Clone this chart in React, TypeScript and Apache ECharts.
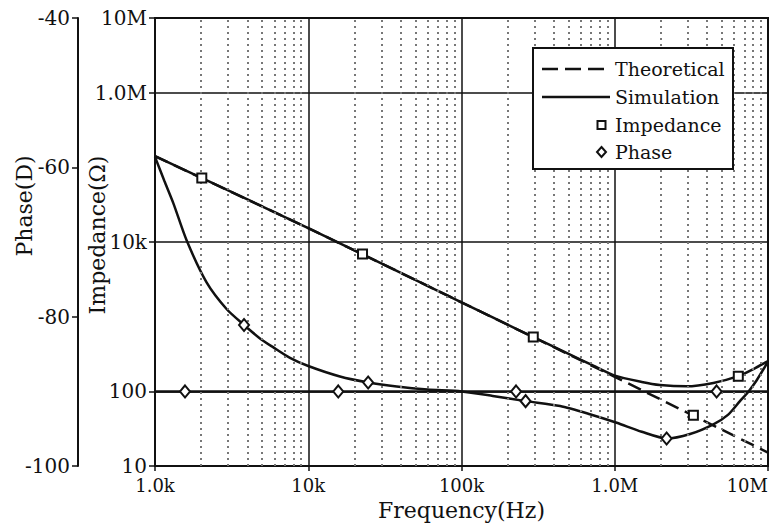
import React, { useEffect, useRef } from "react";
import * as echarts from "echarts";

// ---------- data ----------
const freqTicks = [1e3, 1e4, 1e5, 1e6, 1e7];
const freqTickLabels = ["1.0k", "10k", "100k", "1.0M", "10M"];
const impTicks = [10, 100, 1e4, 1e6, 1e7];
const impTickLabels = ["10", "100", "10k", "1.0M", "10M"];
const minorFreqs = [
  2e3, 3e3, 4e3, 5e3, 6e3, 7e3, 8e3, 9e3,
  2e4, 3e4, 4e4, 5e4, 6e4, 7e4, 8e4, 9e4,
  2e5, 3e5, 4e5, 5e5, 6e5, 7e5, 8e5, 9e5,
  2e6, 3e6, 4e6, 5e6, 6e6, 7e6, 8e6, 9e6,
];

// theoretical impedance (dashed)
const impTheoFreq = [1e3, 1e4, 1e5, 1e6, 1e7];
const impTheoVal = [141000, 15400, 1560, 157, 15.2];

// simulated impedance (solid)
const impSimFreq = [1e3, 1e4, 1e5, 2.94e5, 5e5, 7.26e5, 1e6, 1.5e6, 1.97e6, 2.95e6, 4.4e6, 6.4e6, 8.2e6, 1e7];
const impSimVal = [141000, 15400, 1560, 535, 318, 221, 163, 134, 122, 117, 130, 160, 204, 255];

// theoretical phase (flat)
const phaseTheoFreq = [1e3, 1e7];
const phaseTheoVal = [-90, -90];

// simulated phase (solid)
const phaseSimFreq = [1e3, 1.15e3, 1.32e3, 1.61e3, 2.17e3, 2.94e3, 3.81e3, 4.84e3, 5.92e3, 7.6e3, 1e4, 1.61e4, 2.46e4, 3.78e4, 6e4, 1e5, 1.6e5, 2.62e5, 4.4e5, 6.88e5, 1.03e6, 1.5e6, 2.18e6, 3.1e6, 4.4e6, 5.5e6, 6.56e6, 7.4e6, 8.44e6, 1e7];
const phaseSimVal = [-58.6, -61.8, -64.85, -69.8, -75.4, -79.0, -81.1, -82.9, -84.1, -85.5, -86.6, -88.0, -88.8, -89.35, -89.75, -90.0, -90.6, -91.3, -91.95, -93.05, -94.2, -95.4, -96.3, -95.7, -94.4, -93.1, -91.3, -90.1, -88.5, -86.0];

// markers
const impMarkFreq = [2.02e3, 2.26e4, 2.94e5, 3.26e6, 6.4e6];
const impMarkVal = [72000, 6900, 535, 48, 160];
const phaseMarkFreq = [1.57e3, 1.57e4, 2.27e5, 4.62e6, 3.81e3, 2.46e4, 2.62e5, 2.18e6];
const phaseMarkVal = [-90, -90, -90, -90, -81.1, -88.8, -91.3, -96.3];

const FONT = '"DejaVu Serif", "Liberation Serif", serif';
const INK = "#111";

const zip = (a: number[], b: number[]) => a.map((v, i) => [v, b[i]]);
const labelFor = (ticks: number[], labels: string[]) => (v: number) => {
  for (let i = 0; i < ticks.length; i++) {
    if (Math.abs(Math.log10(v) - Math.log10(ticks[i])) < 1e-6) return labels[i];
  }
  return "";
};

export default function App() {
  const ref = useRef<HTMLDivElement>(null);
  useEffect(() => {
    document.body.style.margin = "0";
    if (!ref.current) return;
    const chart = echarts.init(ref.current, null, { renderer: "svg", width: 776, height: 526 });
    const legendRows = [21, 49, 77, 104];
    chart.setOption({
      animation: false,
      backgroundColor: "#fff",
      grid: {
        left: 155, right: 8, top: 18, bottom: 59,
        show: true, borderColor: INK, borderWidth: 2, backgroundColor: "transparent",
      },
      xAxis: {
        type: "log", logBase: 10, min: 1e3, max: 1e7,
        name: "Frequency(Hz)", nameLocation: "middle", nameGap: 30,
        nameTextStyle: { fontFamily: FONT, fontSize: 22, color: INK },
        axisLine: { show: true, lineStyle: { color: INK, width: 2 } },
        axisTick: { show: true, length: 5, lineStyle: { color: INK, width: 1.5 }, customValues: freqTicks },
        axisLabel: {
          fontFamily: FONT, fontSize: 18, color: INK, margin: 10,
          customValues: freqTicks, alignMaxLabel: "right",
          formatter: labelFor(freqTicks, freqTickLabels),
        },
        splitLine: { show: true, lineStyle: { color: INK, width: 1.5 } },
        minorTick: { show: false }, minorSplitLine: { show: false },
      },
      yAxis: [
        {
          type: "log", logBase: 10, min: 10, max: 1e7, position: "left", offset: 0,
          axisLine: { show: true, lineStyle: { color: INK, width: 2 } },
          axisTick: { show: true, length: 6, lineStyle: { color: INK, width: 1.5 }, customValues: impTicks },
          axisLabel: {
            fontFamily: FONT, fontSize: 20, color: INK, margin: 8,
            customValues: impTicks, formatter: labelFor(impTicks, impTickLabels),
          },
          splitLine: { show: true, lineStyle: { color: INK, width: 1.5 } },
        },
        {
          type: "value", min: -100, max: -40, interval: 20, position: "left", offset: 77,
          axisLine: { show: true, onZero: false, lineStyle: { color: INK, width: 2 } },
          axisTick: { show: true, length: 6, lineStyle: { color: INK, width: 1.5 } },
          axisLabel: { fontFamily: FONT, fontSize: 20, color: INK, margin: 8 },
          splitLine: { show: false },
        },
      ],
      series: [
        {
          name: "minorGrid", type: "line", xAxisIndex: 0, yAxisIndex: 0,
          data: [[1e3, 10]], symbol: "none", lineStyle: { opacity: 0 }, silent: true, z: 1,
          markLine: {
            silent: true, symbol: "none", label: { show: false },
            lineStyle: { color: "#777", width: 2, type: [2, 4] },
            emphasis: { disabled: true },
            data: minorFreqs.map((f) => ({ xAxis: f })),
          },
        },
        {
          name: "Theoretical", type: "line", yAxisIndex: 0, z: 3,
          data: zip(impTheoFreq, impTheoVal), symbol: "none",
          lineStyle: { color: INK, width: 2.5, type: [14, 7] },
        },
        {
          name: "Simulation", type: "line", yAxisIndex: 0, z: 4,
          data: zip(impSimFreq, impSimVal), symbol: "none", smooth: 0.25,
          lineStyle: { color: INK, width: 2.5 },
        },
        {
          name: "PhaseTheoretical", type: "line", yAxisIndex: 1, z: 3,
          data: zip(phaseTheoFreq, phaseTheoVal), symbol: "none",
          lineStyle: { color: INK, width: 2.5 },
        },
        {
          name: "PhaseSimulation", type: "line", yAxisIndex: 1, z: 4,
          data: zip(phaseSimFreq, phaseSimVal), symbol: "none", smooth: 0.25,
          lineStyle: { color: INK, width: 2.5 },
        },
        {
          name: "Impedance", type: "scatter", yAxisIndex: 0, z: 6,
          data: zip(impMarkFreq, impMarkVal), symbol: "rect", symbolSize: 9,
          itemStyle: { color: "#fff", borderColor: INK, borderWidth: 2, opacity: 1 },
        },
        {
          name: "Phase", type: "scatter", yAxisIndex: 1, z: 6,
          data: zip(phaseMarkFreq, phaseMarkVal), symbol: "diamond", symbolSize: [10, 12],
          itemStyle: { color: "#fff", borderColor: INK, borderWidth: 2, opacity: 1 },
        },
      ],
      graphic: [
        {
          type: "text", x: 24, y: 206, rotation: Math.PI / 2, z: 50,
          style: { text: "Phase(D)", font: `22px ${FONT}`, fill: INK, align: "center", verticalAlign: "middle" },
        },
        {
          type: "text", x: 97, y: 235, rotation: Math.PI / 2, z: 50,
          style: { text: "Impedance(Ω)", font: `22px ${FONT}`, fill: INK, align: "center", verticalAlign: "middle" },
        },
        {
          type: "group", x: 533, y: 48, z: 100,
          children: [
            { type: "rect", z: 100, shape: { x: 0, y: 0, width: 200, height: 121 }, style: { fill: "#fff", stroke: INK, lineWidth: 2 } },
            { type: "line", z: 101, shape: { x1: 9, y1: legendRows[0], x2: 77, y2: legendRows[0] }, style: { stroke: INK, lineWidth: 2.5, lineDash: [16, 7] } },
            { type: "line", z: 101, shape: { x1: 9, y1: legendRows[1], x2: 77, y2: legendRows[1] }, style: { stroke: INK, lineWidth: 2.5 } },
            { type: "rect", z: 101, shape: { x: 64.5, y: legendRows[2] - 4, width: 8, height: 8 }, style: { fill: "#fff", stroke: INK, lineWidth: 2 } },
            {
              type: "polygon", z: 101,
              shape: { points: [[68.5, legendRows[3] - 5], [73, legendRows[3]], [68.5, legendRows[3] + 5], [64, legendRows[3]]] },
              style: { fill: "#fff", stroke: INK, lineWidth: 2 },
            },
            ...["Theoretical", "Simulation", "Impedance", "Phase"].map((t, i) => ({
              type: "text", z: 102, x: 82, y: legendRows[i],
              style: { text: t, font: `19px ${FONT}`, fill: INK, verticalAlign: "middle" },
            })),
          ],
        },
      ],
    });
    return () => chart.dispose();
  }, []);
  return <div ref={ref} style={{ width: 776, height: 526 }} />;
}
